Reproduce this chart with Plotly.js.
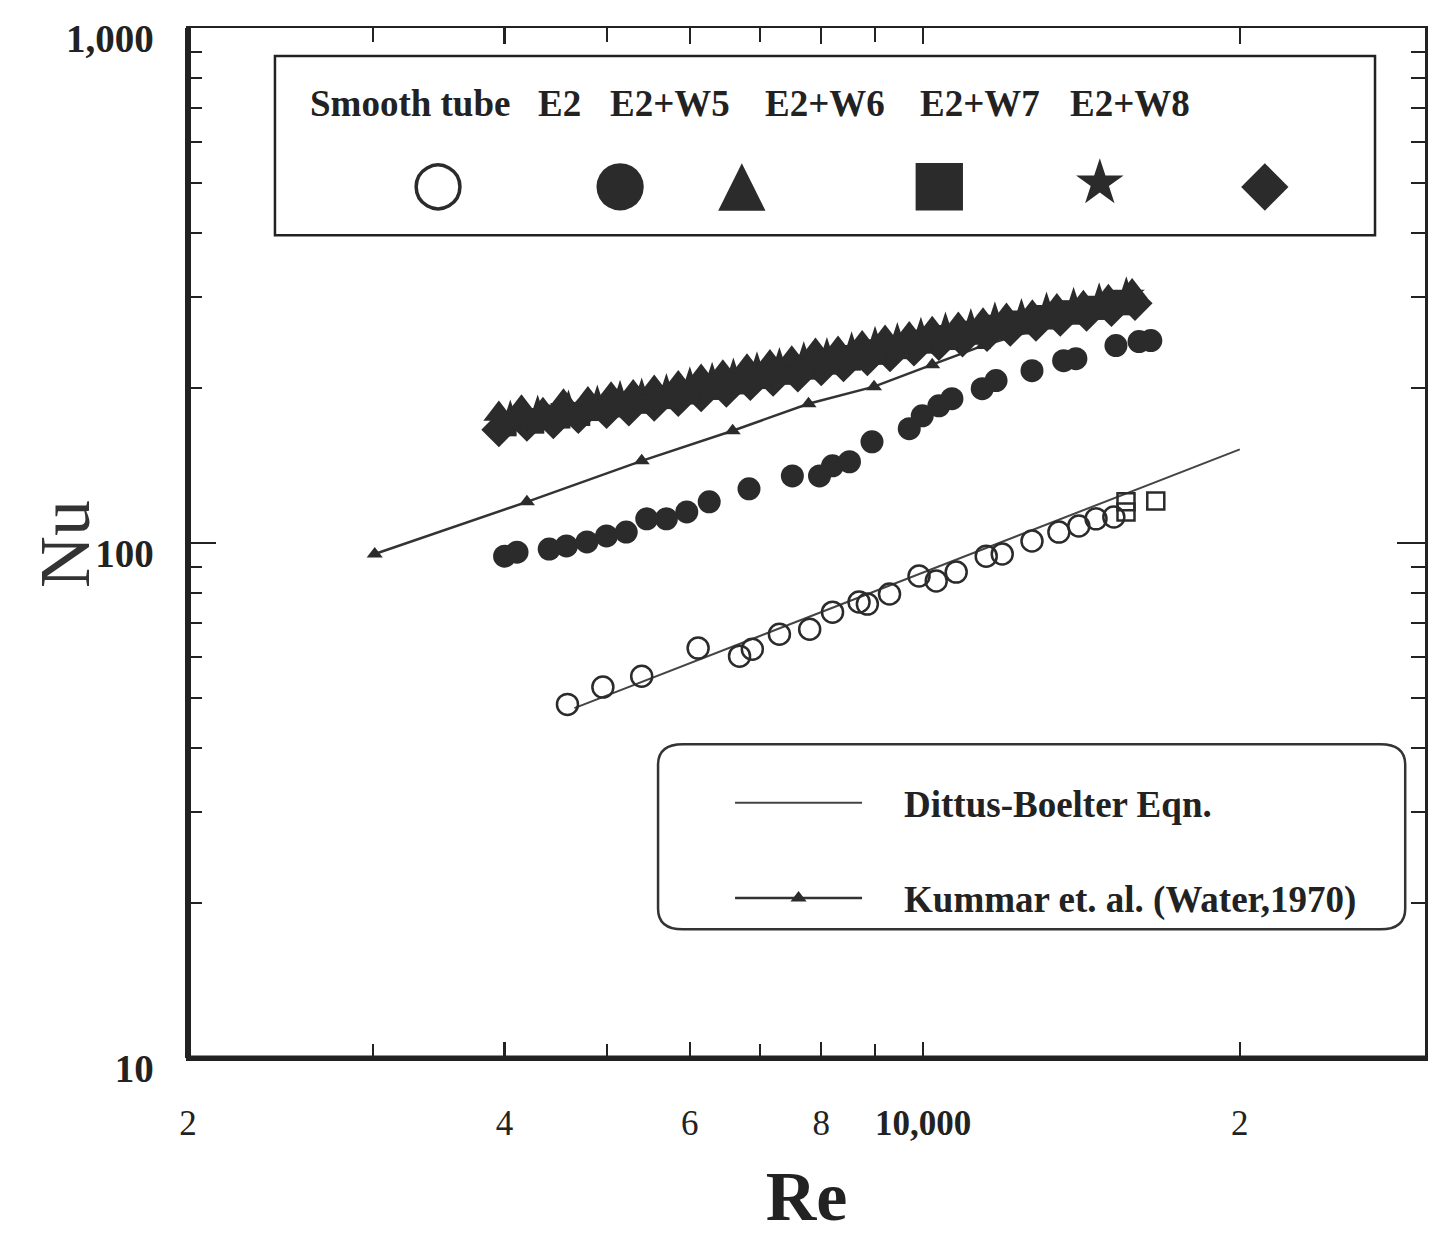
<!DOCTYPE html>
<html>
<head>
<meta charset="utf-8">
<script src="https://cdn.plot.ly/plotly-3.0.1.min.js"></script>
<style>
html,body{margin:0;padding:0;background:#fff;}
#chart{width:1439px;height:1239px;}
</style>
</head>
<body>
<div id="chart"></div>
<script>
// ---- data ----
const smoothRe = [4590, 4960, 5400, 6110, 6690, 6880, 7300, 7800, 8200, 8690, 8850, 9290, 9910, 10290, 10750, 11480, 11890, 12690, 13460, 14060, 14600, 15180];
const smoothNu = [48.6, 52.5, 55.1, 62.5, 60.3, 62.2, 66.5, 68.0, 73.4, 76.8, 76.1, 79.6, 86.3, 84.4, 87.8, 94.3, 95.2, 100.9, 105.0, 107.9, 111.4, 112.3];
const smoothSqRe = [15590, 15590, 16640];
const smoothSqNu = [114.9, 120.2, 120.7];

const e2Re = [4000, 4110, 4410, 4580, 4790, 5000, 5220, 5460, 5700, 5960, 6260, 6830, 7510, 7970, 8200, 8510, 8940, 9700, 9980, 10350, 10650, 11380, 11730, 12690, 13600, 13970, 15250, 16040, 16460];
const e2Nu = [94.3, 96.0, 97.3, 98.7, 100.5, 103.2, 105.0, 111.4, 111.4, 114.9, 120.2, 127.4, 135.0, 135.0, 141.2, 143.8, 157.2, 166.7, 176.6, 184.7, 190.6, 199.4, 206.7, 216.1, 226.0, 228.0, 241.7, 246.1, 247.2];

const w5Re = [3950, 4150, 4350, 4550, 4800, 5050, 5300, 5550, 5850, 6150, 6450, 6800, 7150, 7500, 7900, 8300, 8750, 9200, 9700, 10200, 10800, 11400, 12000, 12700, 13400, 14200, 15000, 15800];
const w5Nu = [178, 183, 181, 188, 190, 194, 196, 200, 204, 210, 214, 220, 224, 228, 236, 238, 244, 250, 254, 260, 265, 270, 276, 280, 288, 292, 300, 308];

const w6Re = [4000, 4250, 4500, 4700, 4950, 5200, 5450, 5700, 6000, 6300, 6650, 7000, 7350, 7700, 8100, 8500, 8950, 9450, 9950, 10500, 11100, 11700, 12350, 13000, 13800, 14600, 15400];
const w6Nu = [170, 172, 176, 178, 182, 185, 188, 192, 196, 200, 205, 210, 214, 219, 224, 228, 234, 240, 246, 250, 256, 262, 268, 274, 280, 286, 292];

const w7Re = [4050, 4300, 4600, 4900, 5150, 5400, 5700, 6000, 6300, 6600, 6950, 7300, 7700, 8100, 8550, 9000, 9450, 9950, 10500, 11100, 11700, 12400, 13100, 13900, 14700, 15600];
const w7Nu = [174, 178, 182, 186, 190, 192, 196, 202, 206, 210, 216, 220, 226, 230, 236, 242, 246, 252, 258, 262, 270, 274, 282, 288, 294, 302];

const w8Re = [3950, 4200, 4450, 4700, 5000, 5250, 5550, 5850, 6150, 6500, 6850, 7200, 7600, 8000, 8400, 8850, 9300, 9800, 10350, 10900, 11500, 12100, 12800, 13500, 14300, 15100, 15900];
const w8Nu = [166, 170, 172, 176, 180, 182, 186, 190, 194, 198, 204, 208, 212, 218, 222, 228, 232, 238, 244, 248, 254, 260, 266, 272, 278, 284, 292];

const dittusRe = [4660, 20000];
const dittusNu = [47.8, 152];

const kummarRe = [3010, 4200, 5400, 6590, 7780, 8980, 10200, 11400, 12720, 14370];
const kummarNu = [95.2, 120.2, 144.4, 165.2, 186.4, 201.2, 222.0, 241.7, 258.5, 280.3];

const xTickVals = [2000, 4000, 6000, 8000, 10000, 20000];
const xTickText = ["2", "4", "6", "8", "<b>10,000</b>", "2"];
const xMinorVals = [3000, 5000, 7000, 9000];
const yTickVals = [10, 100, 1000];
const yTickText = ["10", "100", "1,000"];
const yMinorVals = [20, 30, 40, 50, 60, 70, 80, 90, 200, 300, 400, 500, 600, 700, 800, 900];

const seriesNames = ["Smooth tube", "E2", "E2+W5", "E2+W6", "E2+W7", "E2+W8"];
const seriesGlyphs = ["\u25CB", "\u25CF", "\u25B2", "\u25A0", "\u2605", "\u25C6"];
const lineNames = ["Dittus-Boelter Eqn.", "Kummar et. al. (Water,1970)"];

// ---- styling ----
const ink = "#2b2b2b";
const serif = "Liberation Serif, DejaVu Serif, serif";
const pad = "\u00A0\u00A0\u00A0\u00A0";

const traces = [
  {x: dittusRe, y: dittusNu, mode: "lines", name: pad + lineNames[0],
   line: {color: "#444", width: 2}, legendgroup: "a", showlegend: true},
  {x: kummarRe, y: kummarNu, mode: "lines+markers", name: pad + lineNames[1],
   line: {color: "#333", width: 2.5}, marker: {symbol: "triangle-up", size: 14, color: ink},
   legendgroup: "b", showlegend: true},
  {x: smoothRe, y: smoothNu, mode: "markers", name: seriesNames[0], showlegend: false,
   marker: {symbol: "circle-open", size: 21, color: ink, line: {width: 2.5, color: ink}}},
  {x: smoothSqRe, y: smoothSqNu, mode: "markers", name: seriesNames[0] + " ", showlegend: false,
   marker: {symbol: "square-open", size: 17, color: ink, line: {width: 2.5, color: ink}}},
  {x: e2Re, y: e2Nu, mode: "markers", name: seriesNames[1], showlegend: false,
   marker: {symbol: "circle", size: 23, color: ink, line: {width: 0}}},
  {x: w8Re, y: w8Nu, mode: "markers", name: seriesNames[5], showlegend: false,
   marker: {symbol: "diamond", size: 27, color: ink, line: {width: 0}}},
  {x: w6Re, y: w6Nu, mode: "markers", name: seriesNames[3], showlegend: false,
   marker: {symbol: "square", size: 24, color: ink, line: {width: 0}}},
  {x: w7Re, y: w7Nu, mode: "markers", name: seriesNames[4], showlegend: false,
   marker: {symbol: "star", size: 28, color: ink, line: {width: 0}}},
  {x: w5Re, y: w5Nu, mode: "markers", name: seriesNames[2], showlegend: false,
   marker: {symbol: "triangle-up", size: 27, color: ink, line: {width: 0}}}
];

// top legend box: labels row and symbol row
const labelX = [0.1795, 0.3007, 0.3897, 0.515, 0.6403, 0.7615];
const glyphX = [0.2021, 0.3492, 0.4479, 0.6079, 0.7373, 0.8707];
const annotations = [];
seriesNames.forEach((n, i) => {
  annotations.push({xref: "paper", yref: "paper", x: labelX[i], y: 0.927, text: "<b>" + n + "</b>",
    showarrow: false, font: {family: serif, size: 37, color: "#222"}, xanchor: "center", yanchor: "middle"});
  annotations.push({xref: "paper", yref: "paper", x: glyphX[i], y: 0.851, text: seriesGlyphs[i],
    showarrow: false, font: {family: "DejaVu Sans", size: 62, color: ink}, xanchor: "center", yanchor: "middle"});
});
annotations.push({xref: "paper", yref: "paper", x: -0.0994, y: 0.499, text: "Nu", textangle: -90,
  showarrow: false, font: {family: serif, size: 72, color: "#333"}, xanchor: "center", yanchor: "middle"});

const roundedBox = (x0, y0, x1, y1, r) =>
  `M ${x0 + r} ${y0} L ${x1 - r} ${y0} Q ${x1} ${y0} ${x1} ${y0 + r} L ${x1} ${y1 - r} Q ${x1} ${y1} ${x1 - r} ${y1} L ${x0 + r} ${y1} Q ${x0} ${y1} ${x0} ${y1 - r} L ${x0} ${y0 + r} Q ${x0} ${y0} ${x0 + r} ${y0} Z`;

const shapes = [
  {type: "rect", xref: "paper", yref: "paper", x0: 0.0703, x1: 0.9596, y0: 0.7987, y1: 0.9728,
   line: {color: "#222", width: 2.5}, fillcolor: "rgba(0,0,0,0)"},
  {type: "line", xref: "paper", yref: "paper", x0: 0, x1: 0, y0: 0, y1: 1, line: {color: "#222", width: 6}},
  {type: "line", xref: "paper", yref: "paper", x0: 0, x1: 1, y0: 0, y1: 0, line: {color: "#222", width: 5}},
  {type: "path", xref: "paper", yref: "paper",
   path: roundedBox(0.380, 0.125, 0.984, 0.3045, 0.02),
   line: {color: "#333", width: 2.5}, fillcolor: "rgba(0,0,0,0)"}
];

const layout = {
  width: 1439, height: 1239,
  paper_bgcolor: "#fff", plot_bgcolor: "#fff",
  margin: {l: 188, r: 14, t: 28, b: 181},
  font: {family: serif, color: "#222"},
  xaxis: {
    type: "log", range: [Math.log10(2000), Math.log10(30000)],
    tickmode: "array", tickvals: xTickVals, ticktext: xTickText,
    ticks: "inside", ticklen: 16, tickwidth: 2.5, tickcolor: "#222",
    minor: {tickmode: "array", tickvals: xMinorVals, ticks: "inside", ticklen: 14, tickwidth: 2, tickcolor: "#222"},
    showline: true, linecolor: "#222", linewidth: 2.5, mirror: "ticks",
    showgrid: false, zeroline: false,
    tickfont: {family: serif, size: 35, color: "#222"}, ticklabelstandoff: 32,
    title: {text: "<b>Re</b>", font: {family: serif, size: 70, color: "#222"}, standoff: 30}
  },
  yaxis: {
    type: "log", range: [1, 3],
    tickmode: "array", tickvals: yTickVals, ticktext: yTickText,
    ticks: "inside", ticklen: 28, tickwidth: 2.5, tickcolor: "#222",
    minor: {tickmode: "array", tickvals: yMinorVals, ticks: "inside", ticklen: 14, tickwidth: 2, tickcolor: "#222"},
    showline: true, linecolor: "#222", linewidth: 2.5, mirror: "ticks",
    showgrid: false, zeroline: false,
    tickfont: {family: serif, size: 39, color: "#222", weight: "bold"},
    ticklabelstandoff: 24, ticklabelshift: 10
  },
  showlegend: true,
  legend: {
    x: 0.4382, y: 0.2774, xanchor: "left", yanchor: "top",
    bgcolor: "rgba(0,0,0,0)", borderwidth: 0,
    font: {family: serif, size: 37, color: "#222", weight: "bold"},
    itemwidth: 127, traceorder: "grouped", tracegroupgap: 44, itemsizing: "trace"
  },
  annotations: annotations,
  shapes: shapes
};

Plotly.newPlot("chart", traces, layout, {staticPlot: true});
</script>
</body>
</html>
